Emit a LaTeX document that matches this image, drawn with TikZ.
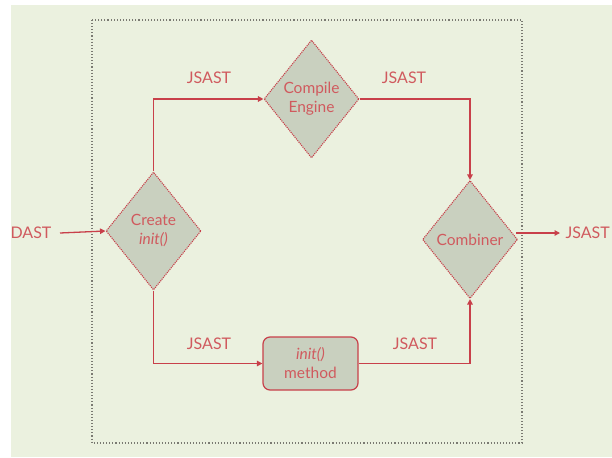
\documentclass[tikz,border=0pt]{standalone}
\usepackage{fontspec}
\setmainfont{Lato}
\usetikzlibrary{shapes.geometric,arrows.meta}
\definecolor{bgpage}{HTML}{EBF1DF}
\definecolor{flowred}{HTML}{C8404A}
\definecolor{labelred}{HTML}{D05A5E}
\definecolor{boxfill}{HTML}{C9D0BF}
\definecolor{frame}{HTML}{7A7A72}
\tikzset{
  flow/.style={draw=flowred, line width=1.3pt, -{Triangle[length=5.5pt,width=5.5pt]}},
  decision/.style={diamond, draw=flowred, densely dotted, line width=1.1pt, fill=boxfill,
    inner sep=0pt, minimum width=95pt, minimum height=118pt, text=labelred,
    font=\fontsize{15.5}{19}\selectfont, align=center},
  stepbox/.style={rectangle, rounded corners=7pt, draw=flowred, line width=1.2pt, fill=boxfill,
    minimum width=95pt, minimum height=53pt, text=labelred,
    font=\fontsize{15.5}{19}\selectfont, align=center},
  tag/.style={text=labelred, font=\fontsize{16}{19}\selectfont, inner sep=0pt}
}
\begin{document}
\begin{tikzpicture}[x=1pt,y=-1pt]
  \useasboundingbox (0,0) rectangle (612,457);
  \fill[bgpage] (11,5) rectangle (612,457);
  % dotted frame around the pipeline
  \draw[frame, dotted, line width=1.1pt] (92,20) rectangle (522,443);

  % nodes
  \node[decision] (create) at (153.5,231) {Create\\\textit{init()}};
  \node[decision] (compile) at (311.5,99) {Compile\\Engine};
  \node[decision] (combiner) at (470,239.5) {Combiner};
  \node[stepbox] (initm) at (310.5,363.5) {\textit{init()}\\method};

  % labels
  \node[tag] (dast) at (31,233) {DAST};
  \node[tag] (j1) at (209,78) {JSAST};
  \node[tag] (j2) at (404,78) {JSAST};
  \node[tag] (j3) at (209,344) {JSAST};
  \node[tag] (j4) at (415,344) {JSAST};
  \node[tag, anchor=east] (jout) at (610,233) {JSAST};

  % connectors
  \coordinate (instart) at (60,233);
  \coordinate (outstart) at (516,233);
  \coordinate (outend) at (560,233);
  \draw[flow] (instart) -- (create.west);
  \draw[flow] (create.north) |- (compile.west);
  \draw[flow] (compile.east) -| (combiner.north);
  \draw[flow] (create.south) |- (initm.west);
  \draw[flow] (initm.east) -| (combiner.south);
  \draw[flow] (outstart) -- (outend);
\end{tikzpicture}
\end{document}
